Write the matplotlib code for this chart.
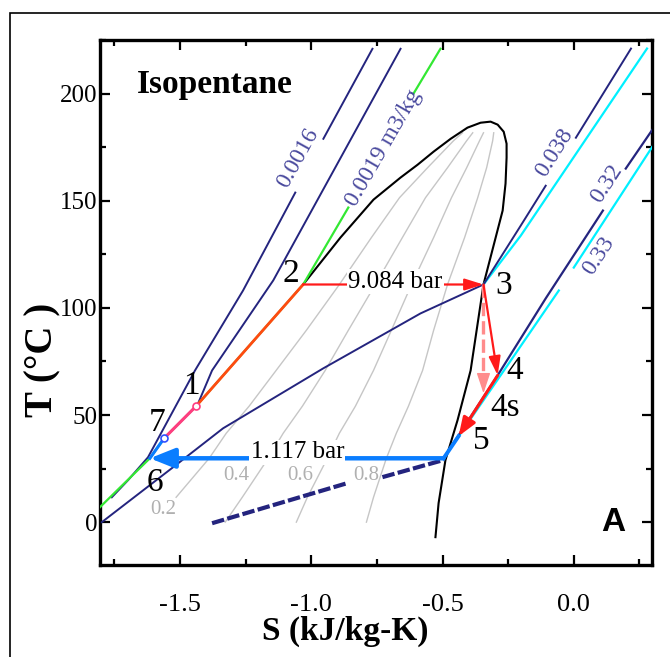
import matplotlib
matplotlib.use("Agg")
import matplotlib.pyplot as plt
import numpy as np
from matplotlib.patches import Rectangle

plt.rcParams["font.family"] = ["Liberation Serif", "DejaVu Serif"]
plt.rcParams["axes.unicode_minus"] = False

nan = np.nan

# saturation dome (liquid side from state 2 up, over the top, down the vapour side)
dome_s = [-1.031, -0.889, -0.763, -0.660, -0.595, -0.534, -0.469, -0.405, -0.355, -0.317,
          -0.290, -0.267, -0.256, -0.256, -0.260, -0.271, -0.344, -0.393, -0.443, -0.489,
          -0.515, -0.527]
dome_t = [110.9, 132.8, 150.5, 160.8, 166.8, 172.9, 178.9, 184.1, 186.4, 186.9,
          185.5, 182.2, 176.6, 170.1, 158.0, 145.4, 110.9, 70.8, 47.5, 28.9,
          8.9, -7.0]

# quality lines
qual_t = [0.0, 11.6, 29.8, 41.5, 54.1, 70.8, 89.5, 110.9, 132.8, 151.4, 165.4, 178.0, 181.7]
q02_s = [nan, -1.515, -1.389, -1.324, -1.237, -1.134, -1.019, -0.893, -0.771, -0.664, -0.557, -0.458, -0.424]
q04_s = [-1.328, -1.263, -1.164, -1.107, -1.034, -0.947, -0.859, -0.756, -0.653, -0.565, -0.481, -0.408, -0.385]
q06_s = [-1.057, -1.015, -0.939, -0.893, -0.832, -0.763, -0.695, -0.618, -0.534, -0.466, -0.408, -0.359, -0.344]
q08_s = [-0.790, -0.763, -0.714, -0.676, -0.630, -0.576, -0.534, -0.481, -0.416, -0.366, -0.332, -0.309, -0.305]
qual_labels = ["0.2", "0.4", "0.6", "0.8"]
qual_label_s = [-1.565, -1.286, -1.042, -0.790]
qual_label_t = [6.1, 21.9, 21.9, 21.9]

# isochores (nan = gap where the label sits)
v0016_s = [-1.760, -1.698, -1.622, -1.443, -1.260, -1.061, nan, -0.954, -0.767]
v0016_t = [11.6, 19.6, 30.3, 70.8, 108.1, 153.8, nan, 178.9, 220.9]
v0017_s = [-1.431, -1.378, -1.145, -0.660]
v0017_t = [55.5, 70.8, 112.8, 220.9]
v0019_s = [-1.805, -1.615, -1.561, -1.439, -1.031, -0.859, nan, -0.611, -0.508]
v0019_t = [7.0, 29.8, 39.1, 54.1, 110.9, 146.8, nan, 199.9, 220.9]
v038_s = [-1.798, -1.531, -1.336, -0.954, -0.698, -0.584, -0.344, -0.202, -0.107, nan, 0.008, 0.218]
v038_t = [0.0, 25.2, 43.8, 71.8, 89.5, 97.4, 110.9, 138.4, 157.0, nan, 179.4, 221.0]
v032_wet_s = [-1.378, -0.863, nan, -0.729, -0.496]
v032_wet_t = [-0.5, 18.2, nan, 21.0, 29.0]
v032_s = [-0.496, -0.439, -0.290, -0.107, 0.111, nan, 0.198, 0.302]
v032_t = [29.8, 40.5, 68.5, 104.4, 145.4, nan, 165.0, 183.6]

# isobars in the superheated region
p_high_s = [-0.344, -0.202, 0.279]
p_high_t = [110.9, 133.7, 221.0]
p_low_s = [-0.496, -0.271, -0.057, nan, 0.0, 0.302]
p_low_t = [29.8, 69.9, 108.1, nan, 118.8, 175.7]

iso_labels = ["0.0016", "0.0019 m3/kg", "0.038", "0.32", "0.33"]
iso_label_s = [-1.050, -0.725, -0.073, 0.126, 0.095]
iso_label_t = [170.1, 174.7, 172.4, 158.0, 124.4]
iso_label_rot = [61, 60, 58, 57, 57]

# cycle state points
state_names = ["1", "2", "3", "4", "4s", "5", "6", "7"]
state_s = [-1.439, -1.031, -0.344, -0.290, -0.344, -0.439, -1.615, -1.561]
state_t = [54.1, 110.9, 110.9, 68.5, 60.1, 40.1, 29.8, 39.1]
state_label_s = [-1.458, -1.076, -0.267, -0.225, -0.263, -0.351, -1.595, -1.588]
state_label_t = [63.8, 116.0, 110.4, 70.8, 53.6, 38.2, 18.2, 46.6]
sat_vap_low = (-0.496, 29.8)   # condenser inlet, saturated vapour at 1.117 bar

pressures = ["9.084 bar", "1.117 bar"]
pressure_label_s = [-0.679, -1.053]
pressure_label_t = [112.3, 32.6]

navy = "#24247e"
navy_txt = "#4a4a9e"
gray = "#c6c6c6"
green = "#33e833"
cyan = "#00f0ff"
red = "#ff1a1a"
orange = "#ff4a10"
pink = "#ff3d80"
blue = "#0a7dff"
salmon = "#ff8c8c"

fig = plt.figure(figsize=(6.7, 6.57), dpi=100)
ax = fig.add_axes([100 / 670, 1 - 565 / 657, 552 / 670, 525 / 657])

for qs in (q02_s, q04_s, q06_s, q08_s):
    ax.plot(qs, qual_t, color=gray, lw=1.0, zorder=1)
for lab, s, t in zip(qual_labels, qual_label_s, qual_label_t):
    ax.text(s, t, lab, color="#b0b0b0", fontsize=15, ha="center", va="center", zorder=6)

ax.plot(dome_s, dome_t, color="black", lw=1.5, zorder=2)

ax.plot(v0016_s, v0016_t, color=navy, lw=1.4, zorder=3)
ax.plot(v0017_s, v0017_t, color=navy, lw=1.4, zorder=3)
ax.plot(v038_s, v038_t, color=navy, lw=1.4, zorder=3)
ax.plot(v032_s, v032_t, color=navy, lw=1.6, zorder=3)
ax.plot(v032_wet_s, v032_wet_t, color=navy, lw=3.0, ls=(0, (3, 0.8)), zorder=3)
ax.plot(p_high_s, p_high_t, color=cyan, lw=1.6, zorder=2.9)
ax.plot(p_low_s, p_low_t, color=cyan, lw=1.6, zorder=2.9)
ax.plot(v0019_s, v0019_t, color=green, lw=1.6, zorder=3.5)

for lab, s, t, r in zip(iso_labels, iso_label_s, iso_label_t, iso_label_rot):
    ax.text(s, t, lab, color=navy_txt, fontsize=17, rotation=r,
            ha="center", va="center", rotation_mode="anchor", zorder=6)

S = dict(zip(state_names, state_s))
T = dict(zip(state_names, state_t))


def pt(name):
    return (S[name], T[name])


def arrow(p0, p1, color, lw, ms, hl=0.7, hw=0.25, z=5):
    ax.annotate("", xy=p1, xytext=p0, zorder=z,
                arrowprops=dict(arrowstyle=f"-|>,head_length={hl},head_width={hw}",
                                color=color, lw=lw, shrinkA=0, shrinkB=0,
                                mutation_scale=ms))


# pump and heating lines
ax.plot([S["6"], S["7"]], [T["6"], T["7"]], color=blue, lw=2.2, zorder=4)
ax.plot([S["7"], S["1"]], [T["7"], T["1"]], color=pink, lw=2.2, zorder=4)
ax.plot([S["1"], S["2"]], [T["1"], T["2"]], color=orange, lw=2.0, zorder=4)
ax.plot(S["7"], T["7"], "o", ms=5, mfc="white", mec="#3050ff", mew=1.2, zorder=5)
ax.plot(S["1"], T["1"], "o", ms=5, mfc="white", mec=pink, mew=1.2, zorder=5)

# evaporation 2 -> 3
arrow(pt("2"), pt("3"), red, 1.6, 14, 0.8, 0.25)
# expansion
arrow(pt("3"), pt("4"), red, 1.6, 14, 0.8, 0.25)
ax.plot([S["3"], S["4s"]], [T["3"], T["4s"] + 4], color=salmon, lw=2.4, ls=(0, (4, 1.5)), zorder=4)
arrow((S["4s"], T["4s"] + 6), pt("4s"), salmon, 1.0, 14, 0.9, 0.3)
# desuperheating 4 -> 5
arrow(pt("4"), pt("5"), red, 2.2, 14, 0.8, 0.3)
ax.plot([S["5"], sat_vap_low[0]], [T["5"], sat_vap_low[1]], color=blue, lw=2.8, zorder=4)
# condensation
arrow(sat_vap_low, pt("6"), blue, 3.2, 20, 0.75, 0.3)

for lab, s, t in zip(pressures, pressure_label_s, pressure_label_t):
    ax.text(s, t, lab, fontsize=18, ha="center", va="center", zorder=7,
            bbox=dict(boxstyle="square,pad=0.05", fc="white", ec="none"))

for lab, s, t in zip(state_names, state_label_s, state_label_t):
    ax.text(s, t, lab, fontsize=24, ha="center", va="center", zorder=7)

ax.text(0.067, 0.899, "Isopentane", transform=ax.transAxes,
        fontsize=24, fontweight="bold", ha="left", va="baseline", zorder=7)
ax.text(0.149, 0.0, "A", fontsize=24, fontweight="bold", family="Liberation Sans",
        ha="center", va="center", zorder=7)

ax.set_xlim(-1.805, 0.298)
ax.set_ylim(-20, 224.7)
ax.set_xticks([-1.5, -1.0, -0.5, 0.0])
ax.set_xticklabels(["-1.5", "-1.0", "-0.5", "0.0"])
ax.set_xticks([-1.75, -1.25, -0.75, -0.25, 0.25], minor=True)
ax.set_yticks([0, 50, 100, 150, 200])
ax.set_yticks([25, 75, 125, 175, 225], minor=True)
ax.tick_params(which="both", direction="in", top=True, right=True, width=1.6)
ax.tick_params(which="major", length=7, labelsize=19)
ax.tick_params(which="minor", length=4)
ax.tick_params(axis="x", pad=21)
ax.tick_params(axis="y", pad=2, labelsize=18)
for sp in ax.spines.values():
    sp.set_linewidth(2.4)

ax.set_xlabel("S (kJ/kg-K)", fontsize=24, fontweight="bold")
ax.xaxis.set_label_coords(0.444, -0.097)
ax.set_ylabel("T (°C )", fontsize=28, fontweight="bold")
ax.yaxis.set_label_coords(-0.07, 0.39)

fig.add_artist(Rectangle((10 / 670, -0.1), 1.2, 1.1 - 13 / 657, transform=fig.transFigure,
                         fill=False, ec="black", lw=1.2, clip_on=False))

fig.savefig("out.png", dpi=100)
